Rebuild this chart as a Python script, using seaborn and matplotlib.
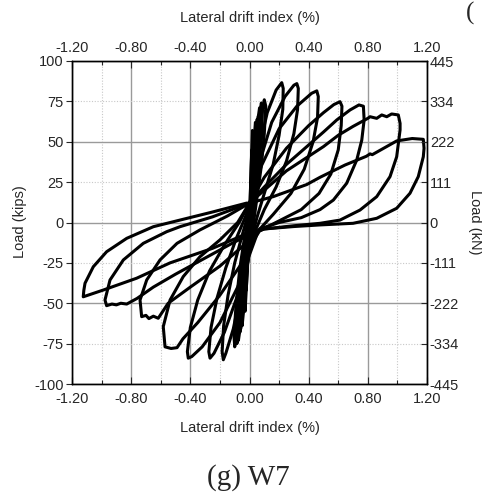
import matplotlib
matplotlib.use("Agg")
import matplotlib.pyplot as plt
import numpy as np
import pandas as pd
import seaborn as sns

# ---- data: lateral drift index (%) and load (kips), one closed loop per cycle ----
c1_drift = [0.0, 0.01, 0.02, 0.025, 0.015, 0.0, -0.015, -0.03, -0.035, -0.02, 0.0]
c1_load = [0.0, 30, 57, 50, 25, 0, -30, -55, -48, -25, 0]

c1b_drift = [0.0, 0.008, 0.015, 0.018, 0.01, 0.0, -0.012, -0.022, -0.026, -0.015, 0.0]
c1b_load = [0.0, 25, 45, 40, 18, 0, -22, -42, -36, -15, 0]

c2_drift = [0.0, 0.02, 0.045, 0.06, 0.065, 0.05, 0.03, 0.01, -0.02, -0.045, -0.065, -0.07, -0.055, -0.03, 0.0]
c2_load = [3, 30, 56, 66, 62, 42, 20, 0, -30, -55, -68, -62, -40, -15, 3]

c2b_drift = [0.0, 0.015, 0.03, 0.04, 0.045, 0.035, 0.02, 0.005, -0.015, -0.035, -0.05, -0.055, -0.04, -0.02, 0.0]
c2b_load = [2, 28, 50, 62, 58, 38, 18, 0, -28, -50, -64, -58, -36, -12, 2]

c2c_drift = [0.0, 0.018, 0.038, 0.052, 0.056, 0.045, 0.026, 0.008, -0.018, -0.042, -0.06, -0.064, -0.05, -0.026, 0.0]
c2c_load = [3, 30, 54, 64, 60, 40, 19, 0, -29, -53, -66, -60, -38, -13, 3]

c3_drift = [0.0, 0.03, 0.07, 0.1, 0.11, 0.1, 0.08, 0.05, 0.02, -0.02, -0.06, -0.1, -0.105, -0.09, -0.065, -0.035, 0.0]
c3_load = [5, 35, 62, 76, 72, 55, 35, 15, -5, -30, -57, -77, -70, -50, -28, -10, 5]

c3b_drift = [0.0, 0.025, 0.055, 0.08, 0.088, 0.08, 0.06, 0.035, 0.01, -0.02, -0.05, -0.085, -0.09, -0.075, -0.05, -0.025, 0.0]
c3b_load = [4, 33, 60, 74, 70, 52, 32, 12, -6, -30, -55, -75, -68, -48, -26, -8, 4]

c3c_drift = [0.0, 0.022, 0.048, 0.068, 0.075, 0.068, 0.05, 0.03, 0.008, -0.02, -0.045, -0.075, -0.08, -0.066, -0.044, -0.02, 0.0]
c3c_load = [4, 32, 58, 71, 67, 50, 30, 11, -6, -31, -54, -73, -66, -46, -24, -7, 4]

c4_drift = [0.0, 0.05, 0.12, 0.18, 0.218, 0.228, 0.225, 0.2, 0.16, 0.1, 0.05, 0.0, -0.05, -0.11, -0.16, -0.177,
            -0.185, -0.175, -0.145, -0.1, -0.05, 0.0]
c4_load = [8, 40, 68, 82, 86.6, 83, 70, 54, 36, 18, 3, -15, -40, -66, -81, -85, -80, -64, -45, -25, -8, 8]

c5_drift = [0.0, 0.06, 0.15, 0.24, 0.3, 0.32, 0.33, 0.325, 0.3, 0.25, 0.18, 0.1, 0.04, -0.02, -0.08, -0.17,
            -0.24, -0.267, -0.275, -0.26, -0.22, -0.16, -0.09, -0.03, 0.0]
c5_load = [10, 35, 62, 78, 85, 86, 83, 70, 55, 38, 22, 8, -5, -22, -45, -68, -81, -84, -80, -65, -47, -28, -10, 3, 10]

c6_drift = [0.0, 0.08, 0.2, 0.32, 0.42, 0.455, 0.465, 0.46, 0.43, 0.37, 0.28, 0.16, 0.06, 0.0, -0.08, -0.2,
            -0.32, -0.39, -0.414, -0.42, -0.4, -0.35, -0.27, -0.17, -0.07, 0.0]
c6_load = [12, 35, 58, 72, 80, 81.5, 78, 65, 50, 33, 18, 5, -5, -20, -40, -62, -77, -83, -84, -80, -65, -48, -30,
           -14, 0, 12]

c7_drift = [0.0, 0.1, 0.25, 0.4, 0.5, 0.57, 0.612, 0.625, 0.62, 0.6, 0.55, 0.47, 0.35, 0.2, 0.07, 0.02, -0.05,
            -0.2, -0.35, -0.45, -0.49, -0.53, -0.571, -0.583, -0.537, -0.448, -0.335, -0.2, -0.08, 0.0]
c7_load = [12, 28, 46, 60, 68, 73, 74.8, 72, 60, 45, 30, 18, 8, 1, -5, -12, -25, -45, -62, -72, -77.5, -78, -77,
           -64.5, -48, -33.5, -21.2, -10.8, 0, 12]

c8_drift = [0.0, 0.1, 0.25, 0.4, 0.5, 0.59, 0.68, 0.74, 0.77, 0.775, 0.759, 0.725, 0.657, 0.567, 0.477, 0.35,
            0.2, 0.07, 0.03, -0.05, -0.2, -0.4, -0.55, -0.617, -0.65, -0.68, -0.7, -0.729, -0.74, -0.695, -0.605,
            -0.49, -0.335, -0.15, 0.0]
c8_load = [12, 22, 36, 48, 56, 63.5, 69.7, 72.8, 72, 63.5, 51, 38.7, 24.3, 13.9, 8, 3, 0, -4, -8, -15, -27, -40,
           -50, -59.3, -58, -59.5, -57.5, -58.3, -48, -35.6, -23.2, -12.9, -4.6, 4, 12]

c9_drift = [0.0, 0.1, 0.25, 0.4, 0.5, 0.6, 0.7, 0.8, 0.815, 0.86, 0.894, 0.928, 0.961, 1.006, 1.018, 1.018, 0.995,
            0.95, 0.86, 0.747, 0.612, 0.477, 0.3, 0.1, 0.04, -0.1, -0.3, -0.5, -0.65, -0.76, -0.83, -0.87, -0.9,
            -0.93, -0.966, -0.977, -0.943, -0.853, -0.718, -0.56, -0.47, -0.25, 0.0]
c9_load = [12, 20, 32, 41, 47, 54, 59.5, 64.5, 65.5, 64.5, 66.6, 65.5, 67.2, 66.6, 61.4, 57.3, 40.7, 28.4, 16, 7.7,
           1.5, -0.5, -2, -4, -6, -12, -22, -32, -40, -47, -50.5, -50, -51, -50.5, -51.5, -48, -35.6, -23.2, -12.9,
           -5.7, -2.6, 3.5, 12]

c10_drift = [0.0, 0.16, 0.387, 0.477, 0.646, 0.79, 0.815, 0.83, 0.995, 1.1, 1.175, 1.18, 1.175, 1.141, 1.085,
             0.995, 0.86, 0.7, 0.477, 0.3, 0.1, 0.04, -0.02, -0.25, -0.537, -0.763, -0.988, -1.124, -1.12, -1.112,
             -1.056, -0.966, -0.83, -0.65, -0.47, -0.25, -0.02, 0.0]
c10_load = [12, 16, 23.5, 28, 35.6, 41, 42.5, 42, 50.5, 52, 51.5, 46, 40.7, 28.4, 18.1, 8.8, 2.6, -0.5, -1.5, -2.5,
            -4, -6, -7, -16, -25, -34.5, -41.8, -46, -42, -37.6, -27.4, -18.1, -9.8, -2.6, 1.5, 6.5, 12, 12]

drift_ticks = [-1.2, -0.8, -0.4, 0.0, 0.4, 0.8, 1.2]
drift_tick_labels = ["-1.20", "-0.80", "-0.40", "0.00", "0.40", "0.80", "1.20"]
kips_ticks = [-100, -75, -50, -25, 0, 25, 50, 75, 100]
kn_tick_labels = ["-445", "-334", "-222", "-111", "0", "111", "222", "334", "445"]

cycles = [
    (c1b_drift, c1b_load), (c1_drift, c1_load), (c2b_drift, c2b_load), (c2c_drift, c2c_load),
    (c2_drift, c2_load), (c3c_drift, c3c_load), (c3b_drift, c3b_load), (c3_drift, c3_load),
    (c4_drift, c4_load), (c5_drift, c5_load), (c6_drift, c6_load), (c7_drift, c7_load),
    (c8_drift, c8_load), (c9_drift, c9_load), (c10_drift, c10_load),
]
frames = []
for i, (d, f) in enumerate(cycles):
    frames.append(pd.DataFrame({"drift": d, "load": f, "cycle": i}))
df = pd.concat(frames, ignore_index=True)

# ---- figure ----
sns.set_style("white")
plt.rcParams["font.family"] = ["Liberation Sans", "DejaVu Sans"]

W, H = 482, 499
fig = plt.figure(figsize=(W / 100, H / 100), dpi=100)
ax = fig.add_axes([72 / W, 1 - 384 / H, 355 / W, 323 / H])

# grid: solid at major steps, dotted at the intermediate ones
for x in np.arange(-1.2, 1.21, 0.2):
    major = abs(round(x / 0.4) * 0.4 - x) < 1e-6
    ax.axvline(x, color="#9a9a9a" if major else "#c8c8c8", lw=1.0 if major else 0.8,
               ls="-" if major else (0, (1, 1.5)), zorder=0)
for y in kips_ticks:
    major = y % 50 == 0
    ax.axhline(y, color="#9a9a9a" if major else "#c8c8c8", lw=1.0 if major else 0.8,
               ls="-" if major else (0, (1, 1.5)), zorder=0)

sns.lineplot(data=df, x="drift", y="load", units="cycle", estimator=None, sort=False,
             color="black", lw=2.2, ax=ax, legend=False)

ax.set_xlim(-1.2, 1.2)
ax.set_ylim(-100, 100)
ax.set_xlabel("")
ax.set_ylabel("")
ax.set_xticks(drift_ticks)
ax.set_xticklabels(drift_tick_labels)
ax.set_xticks(np.arange(-1.0, 1.01, 0.4), minor=True)
ax.set_yticks(kips_ticks)
ax.set_yticklabels([str(v) for v in kips_ticks])
ax.tick_params(axis="x", which="major", direction="in", length=5, width=0.8, pad=6, labelsize=10.5)
ax.tick_params(axis="x", which="minor", direction="in", length=3, width=0.8)
ax.tick_params(axis="y", which="major", direction="out", length=4, width=0.8, pad=2, labelsize=10.5)
for s in ax.spines.values():
    s.set_color("black")
    s.set_linewidth(0.9)

# top axis: same drift scale
axt = ax.twiny()
axt.set_xlim(ax.get_xlim())
axt.set_xticks(drift_ticks)
axt.set_xticklabels(drift_tick_labels)
axt.set_xticks(np.arange(-1.0, 1.01, 0.4), minor=True)
axt.tick_params(axis="x", which="major", direction="in", length=5, width=0.8, pad=4, labelsize=10.5)
axt.tick_params(axis="x", which="minor", direction="in", length=3, width=0.8)

# right axis: load in kN
axr = ax.twinx()
axr.set_ylim(ax.get_ylim())
axr.set_yticks(kips_ticks)
axr.set_yticklabels(kn_tick_labels)
axr.tick_params(axis="y", which="major", direction="in", length=4, width=0.8, pad=2, labelsize=10.5)
for a in (axt, axr):
    for s in a.spines.values():
        s.set_color("black")
        s.set_linewidth(0.9)

fig.text(250 / W, 1 - 18 / H, "Lateral drift index (%)", ha="center", va="center", fontsize=10.5)
fig.text(250 / W, 1 - 428 / H, "Lateral drift index (%)", ha="center", va="center", fontsize=10.5)
fig.text(20 / W, 1 - 222 / H, "Load (kips)", ha="center", va="center", rotation=90, fontsize=10.5)
fig.text(475 / W, 1 - 222 / H, "Load (kN)", ha="center", va="center", rotation=270, fontsize=10.5)
fig.text(248 / W, 1 - 478 / H, "(g) W7", ha="center", va="center", fontsize=21,
         family=["Liberation Serif", "DejaVu Serif"])
fig.text(466 / W, 1 - 13 / H, "(", ha="left", va="center", fontsize=18,
         family=["Liberation Serif", "DejaVu Serif"])

fig.savefig("out.png", dpi=100)
